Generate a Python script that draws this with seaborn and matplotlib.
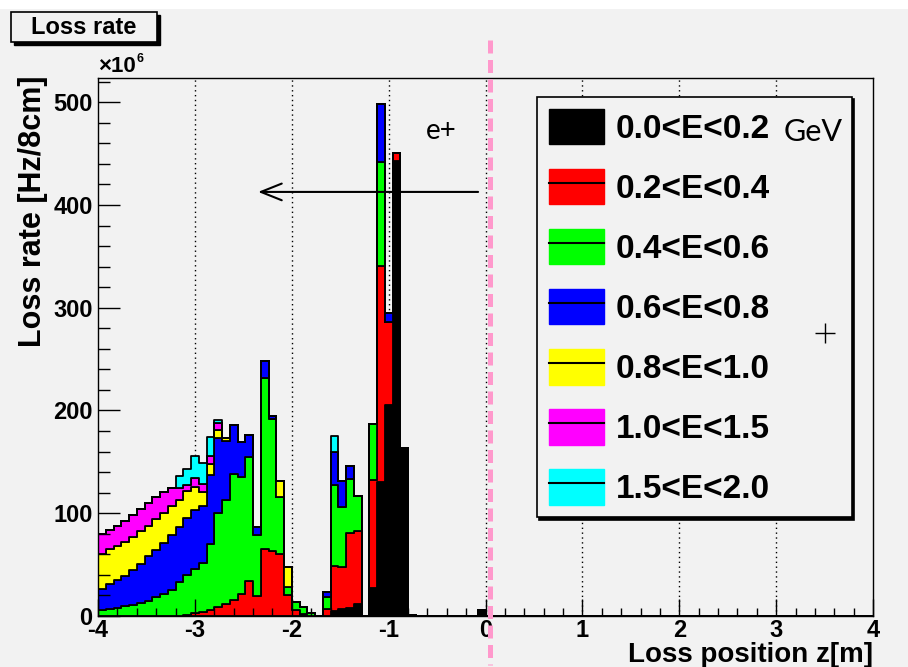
#loss rate vs loss position, stacked by energy band (ROOT style)
import numpy as np
import pandas as pd
import matplotlib
matplotlib.use("Agg")
import matplotlib.pyplot as plt
import seaborn as sns
from matplotlib.patches import Patch, Rectangle
from matplotlib.lines import Line2D
from matplotlib.ticker import MultipleLocator

#energy bands, bottom of the stack first
bands = ["0.0<E<0.2", "0.2<E<0.4", "0.4<E<0.6", "0.6<E<0.8",
         "0.8<E<1.0", "1.0<E<1.5", "1.5<E<2.0"]
colors = ["#000000", "#ff0000", "#00ff00", "#0000ff", "#ffff00", "#ff00ff", "#00ffff"]

#loss rate [x10^6 Hz/8cm] per 8 cm bin, z = -4 m ... 0 m (empty beyond 0)
rate_00_02 = [0, 0, 0, 0, 0, 0, 0, 0, 0, 0,
              0, 0, 0, 0, 0, 0, 0, 0, 0, 0,
              0, 0, 0, 0, 0, 0, 2, 0, 0, 0,
              5, 7, 8, 12, 0, 27, 130, 205, 443, 163,
              1, 0, 0, 0, 0, 0, 0, 0, 0, 6]
rate_02_04 = [0, 0, 0, 0, 0, 0, 0, 0, 0, 0,
              0, 1, 3, 4, 6, 9, 12, 16, 21, 34,
              19, 65, 63, 60, 20, 6, 0, 0, 0, 7,
              44, 41, 73, 71, 0, 105, 211, 81, 8, 0,
              0, 0, 0, 0, 0, 0, 0, 0, 0, 0]
rate_04_06 = [6, 7, 8, 10, 11, 13, 15, 18, 21, 25,
              33, 39, 43, 48, 64, 91, 101, 122, 114, 121,
              60, 167, 129, 56, 8, 8, 7, 3, 0, 11,
              78, 58, 52, 34, 0, 55, 101, 0, 0, 0,
              0, 0, 0, 0, 0, 0, 0, 0, 0, 0]
rate_06_08 = [20, 24, 27, 29, 34, 38, 43, 46, 50, 54,
              54, 55, 57, 55, 67, 73, 57, 48, 34, 21,
              8, 16, 3, 0, 0, 0, 0, 0, 0, 5,
              33, 25, 13, 0, 0, 0, 56, 9, 0, 0,
              0, 0, 0, 0, 0, 0, 0, 0, 0, 0]
rate_08_10 = [34, 34, 33, 33, 32, 32, 30, 30, 29, 28,
              26, 27, 23, 14, 11, 8, 3, 0, 0, 0,
              0, 0, 0, 15, 20, 0, 0, 0, 0, 0,
              0, 0, 0, 0, 0, 0, 0, 0, 0, 0,
              0, 0, 0, 0, 0, 0, 0, 0, 0, 0]
rate_10_15 = [20, 19, 20, 20, 21, 21, 22, 22, 21, 18,
              12, 5, 8, 7, 8, 7, 0, 0, 0, 0,
              0, 0, 0, 0, 0, 0, 0, 0, 0, 0,
              0, 0, 0, 0, 0, 0, 0, 0, 0, 0,
              0, 0, 0, 0, 0, 0, 0, 0, 0, 0]
rate_15_20 = [0, 0, 0, 0, 0, 0, 0, 0, 0, 0,
              11, 16, 22, 21, 18, 3, 0, 0, 0, 0,
              0, 0, 0, 0, 0, 0, 0, 0, 0, 0,
              15, 0, 0, 0, 0, 0, 0, 0, 0, 0,
              0, 0, 0, 0, 0, 0, 0, 0, 0, 0]
rates = [rate_00_02, rate_02_04, rate_04_06, rate_06_08, rate_08_10, rate_10_15, rate_15_20]

bin_w = 0.08
z = -4 + bin_w * (np.arange(len(rate_00_02)) + 0.5)

df = pd.DataFrame({'z': np.tile(z, len(bands)),
                   'rate': np.concatenate(rates),
                   'band': np.repeat(bands, len(z))})

bg = '#f2f2f2'
plt.rcParams['axes.unicode_minus'] = False
plt.rcParams['font.family'] = ['Liberation Sans', 'DejaVu Sans']

fig = plt.figure(figsize=(9.08, 6.67), dpi=100, facecolor=bg)
fig.add_artist(Rectangle((0, 1 - 9/667), 1, 9/667, transform=fig.transFigure,
                         facecolor='white', edgecolor='none', zorder=-5))
ax = fig.add_axes([0.108, 0.0765, 0.8535, 0.8066], facecolor=bg)

#grid at integer z, behind the histograms
for g in [-3, -2, -1, 0, 1, 2, 3]:
    ax.axvline(g, color='black', ls=(0, (1, 2.5)), lw=1, zorder=0.5)

sns.histplot(data=df, x='z', weights='rate', hue='band', hue_order=bands[::-1],
             palette=dict(zip(bands, colors)), multiple='stack', element='step',
             bins=100, binrange=(-4, 4), alpha=1, edgecolor='black', linewidth=1.3,
             legend=False, ax=ax)

ax.set_xlim(-4, 4)
ax.set_ylim(0, 523.6)
ax.xaxis.set_major_locator(MultipleLocator(1))
ax.xaxis.set_minor_locator(MultipleLocator(0.2))
ax.yaxis.set_major_locator(MultipleLocator(100))
ax.yaxis.set_minor_locator(MultipleLocator(20))
ax.tick_params(axis='both', which='both', direction='in', top=False, right=False,
               width=1, color='black')
ax.tick_params(axis='y', which='major', length=16, pad=4)
ax.tick_params(axis='y', which='minor', length=8.5)
ax.tick_params(axis='x', which='major', length=12, pad=2)
ax.tick_params(axis='x', which='minor', length=6)
for lab in ax.get_xticklabels() + ax.get_yticklabels():
    lab.set_fontweight('bold')
    lab.set_fontsize(17)
for s in ax.spines.values():
    s.set_color('black')
    s.set_linewidth(1)

ax.set_xlabel("Loss position z[m]", fontsize=20, fontweight='bold', ha='right')
ax.xaxis.set_label_coords(1.0, -0.048)
ax.set_ylabel("Loss rate [Hz/8cm]", fontsize=22, fontweight='bold', ha='right')
ax.yaxis.set_label_coords(-0.065, 1.005)

#x10^6 exponent
fig.text(0.108, 1 - 66/667, "×10", fontsize=16, fontweight='bold', va='center')
fig.text(0.1505, 1 - 59/667, "6", fontsize=9, fontweight='bold', va='center')

#title box with shadow
fig.add_artist(Rectangle((0.0121 + 3/908, 0.937 - 3/667), 0.1608, 0.045,
                         transform=fig.transFigure, facecolor='black', edgecolor='black'))
fig.add_artist(Rectangle((0.0121, 0.937), 0.1608, 0.045, transform=fig.transFigure,
                         facecolor=bg, edgecolor='black', lw=1.2))
fig.text(0.0925, 0.9595, "Loss rate", fontsize=17, fontweight='bold',
         ha='center', va='center')

#legend
handles = []
for b, c in zip(bands, colors):
    if c == '#000000':
        handles.append(Patch(facecolor=c, edgecolor=c))
    else:
        handles.append((Patch(facecolor=c, edgecolor=c), Line2D([], [], color='black', lw=1.5)))
leg = fig.legend(handles, bands, loc='upper left',
                 bbox_to_anchor=(0.591, 0.2204, 0.347, 0.6346),
                 bbox_transform=fig.transFigure, mode='expand',
                 prop=dict(family='Liberation Sans', weight='bold', size=24),
                 handlelength=1.65, handleheight=1.27, handletextpad=0.37,
                 labelspacing=0.72, borderpad=0.36, borderaxespad=0,
                 fancybox=False, edgecolor='black', facecolor=bg, framealpha=1,
                 shadow={'facecolor': 'black', 'edgecolor': 'black', 'alpha': 1})
leg.get_frame().set_linewidth(1.2)

fig.text(0.895, 1 - 132/667, "GeV", fontsize=22, family='Lato',
         ha='center', va='center', zorder=10)
fig.add_artist(Line2D([825/908], [1 - 333/667], marker='+', ms=15, mew=1,
                      color='black', transform=fig.transFigure, zorder=10))

#e+ direction
ax.annotate("", xy=(-2.348, 412.7), xytext=(-0.077, 412.7),
            arrowprops=dict(arrowstyle='->,head_length=0.75,head_width=0.3',
                            lw=1.5, color='black', mutation_scale=20,
                            shrinkA=0, shrinkB=0))
ax.text(-0.46, 472, "e+", fontsize=20, family='Lato', ha='center', va='center')

#pink dashed marker at z=0
fig.add_artist(Line2D([490/908, 490/908], [1 - 40/667, 1 - 665/667],
                      transform=fig.transFigure, color='#ff99cc', lw=3.6,
                      ls=(0, (2.6, 1.3)), zorder=10))

fig.savefig("out.png", dpi=100, facecolor=bg)
